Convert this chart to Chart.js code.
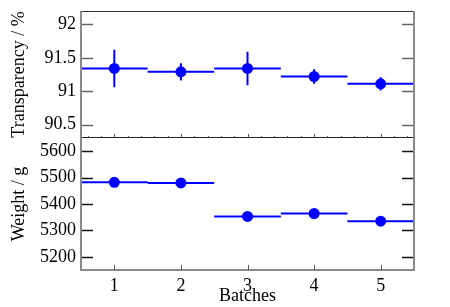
<!DOCTYPE html>
<html>
<head>
<meta charset="utf-8">
<script src="https://cdn.jsdelivr.net/npm/chart.js@4/dist/chart.umd.min.js"></script>
<style>
  html, body { margin: 0; padding: 0; background: #fff; }
  #wrap { position: relative; width: 450px; height: 307px; }
  #wrap canvas { position: absolute; left: 0; }
  #topChart { top: 0; }
  #bottomChart { top: 138px; }
</style>
</head>
<body>
<div id="wrap">
  <canvas id="topChart" width="450" height="139"></canvas>
  <canvas id="bottomChart" width="450" height="169"></canvas>
</div>
<script>
// Data
const batches = [1, 2, 3, 4, 5];
const binHalfWidth = 0.5;
const transparency = [91.34, 91.29, 91.34, 91.22, 91.11];
const transparencyErr = [0.28, 0.13, 0.25, 0.11, 0.10];
const weight = [5482, 5480, 5353, 5364, 5335];

// Tick labels
const transparencyTicks = [90.5, 91, 91.5, 92];
const weightTicks = [5200, 5300, 5400, 5500, 5600];
const batchTicks = [1, 2, 3, 4, 5];

const FONT = { family: 'Liberation Serif', size: 18 };
const BLUE = '#0000ff';

// horizontal bin-width segments, broken with null points
function binSegments(values) {
  const pts = [];
  batches.forEach((b, i) => {
    pts.push({ x: b - binHalfWidth, y: values[i] }, { x: b + binHalfWidth, y: values[i] }, { x: b + binHalfWidth, y: null });
  });
  return pts;
}

// vertical error bars
function errorSegments(values, errs) {
  const pts = [];
  batches.forEach((b, i) => {
    pts.push({ x: b, y: values[i] - errs[i] }, { x: b, y: values[i] + errs[i] }, { x: b, y: null });
  });
  return pts;
}

function points(values) {
  return batches.map((b, i) => ({ x: b, y: values[i] }));
}

function noPadding(scale) {
  scale.paddingTop = 0;
  scale.paddingBottom = 0;
  scale.paddingLeft = 0;
  scale.paddingRight = 0;
}

function line(ctx, x1, y1, x2, y2, color, width) {
  ctx.save();
  ctx.strokeStyle = color;
  ctx.lineWidth = width;
  ctx.beginPath();
  ctx.moveTo(x1, y1);
  ctx.lineTo(x2, y2);
  ctx.stroke();
  ctx.restore();
}

// frame and inward ticks, ROOT style
function framePlugin(panel, yTicks) {
  return {
    id: 'frame',
    afterDraw(chart) {
      const { ctx, chartArea: ca, scales } = chart;
      const tickColor = panel === 'top' ? '#666' : '#111';
      const gray = '#8a8a8a';
      // y ticks on both sides
      yTicks.forEach(v => {
        const y = Math.round(scales.y.getPixelForValue(v)) + 0.5;
        line(ctx, ca.left, y, ca.left + 12, y, tickColor, 1.5);
        line(ctx, ca.right - 12, y, ca.right, y, tickColor, 1.5);
      });
      if (panel === 'top') {
        line(ctx, ca.left, ca.top + 0.5, ca.right, ca.top + 0.5, '#333', 1);
        line(ctx, ca.left, ca.bottom - 0.5, ca.right, ca.bottom - 0.5, '#222', 1.2);
        for (let k = 3; k < 28; k++) {
          const v = k * 0.2;
          const major = Math.abs(v - Math.round(v)) < 1e-6;
          const x = Math.round(scales.x.getPixelForValue(v)) + 0.5;
          line(ctx, x, ca.bottom, x, ca.bottom - (major ? 4 : 2), '#555', 1);
        }
      } else {
        line(ctx, ca.left, ca.bottom, ca.right, ca.bottom, gray, 2);
        batchTicks.forEach(v => {
          const x = Math.round(scales.x.getPixelForValue(v)) + 0.5;
          line(ctx, x, ca.bottom, x, ca.bottom - 5, '#555', 1);
        });
      }
      line(ctx, ca.left, ca.top, ca.left, ca.bottom + (panel === 'top' ? 0 : 1), gray, 2);
      line(ctx, ca.right, ca.top, ca.right, ca.bottom + (panel === 'top' ? 0 : 1), gray, 2);
    }
  };
}

function datasets(values, errs) {
  const sets = [{
    data: points(values),
    showLine: false,
    pointRadius: 5.5,
    pointBackgroundColor: BLUE,
    pointBorderWidth: 0
  }, {
    data: binSegments(values),
    borderColor: BLUE,
    borderWidth: 2,
    pointRadius: 0,
    spanGaps: false
  }];
  if (errs) {
    sets.push({
      data: errorSegments(values, errs),
      borderColor: BLUE,
      borderWidth: 2,
      pointRadius: 0,
      spanGaps: false
    });
  }
  return sets;
}

function yScale(min, max, tickList, title) {
  return {
    min: min,
    max: max,
    grid: { display: false, drawTicks: false },
    border: { display: false },
    afterBuildTicks: s => { s.ticks = tickList.map(v => ({ value: v })); },
    afterFit: s => { s.width = 81; noPadding(s); },
    ticks: { padding: 5, color: '#000', font: FONT, callback: v => String(v) },
    title: { display: true, text: title, color: '#000', font: FONT, padding: { top: 8, bottom: 0 } }
  };
}

const baseOptions = {
  responsive: false,
  animation: false,
  devicePixelRatio: 1,
  plugins: { legend: { display: false }, tooltip: { enabled: false } }
};

// Top panel: transparency
new Chart(document.getElementById('topChart').getContext('2d'), {
  type: 'line',
  data: { datasets: datasets(transparency, transparencyErr) },
  options: {
    ...baseOptions,
    layout: { autoPadding: false, padding: { top: 11, right: 36, bottom: 1, left: 0 } },
    scales: {
      x: { type: 'linear', min: 0.5, max: 5.5, display: false },
      y: yScale(90.3, 92.2, transparencyTicks, 'Transparency / %')
    }
  },
  plugins: [framePlugin('top', transparencyTicks)]
});

// Bottom panel: weight
new Chart(document.getElementById('bottomChart').getContext('2d'), {
  type: 'line',
  data: { datasets: datasets(weight, null) },
  options: {
    ...baseOptions,
    layout: { autoPadding: false, padding: { top: 0, right: 36, bottom: 0, left: 0 } },
    scales: {
      x: {
        type: 'linear',
        min: 0.5,
        max: 5.5,
        grid: { display: false, drawTicks: false },
        border: { display: false },
        afterBuildTicks: s => { s.ticks = batchTicks.map(v => ({ value: v })); },
        afterFit: s => { s.height = 37; noPadding(s); },
        ticks: { padding: 5, color: '#000', font: FONT, maxRotation: 0, callback: v => String(v) },
        title: { display: true, text: 'Batches', color: '#000', font: FONT, padding: { top: 0, bottom: 0 } }
      },
      y: yScale(5150, 5650, weightTicks, 'Weight / g')
    }
  },
  plugins: [framePlugin('bottom', weightTicks)]
});
</script>
</body>
</html>
